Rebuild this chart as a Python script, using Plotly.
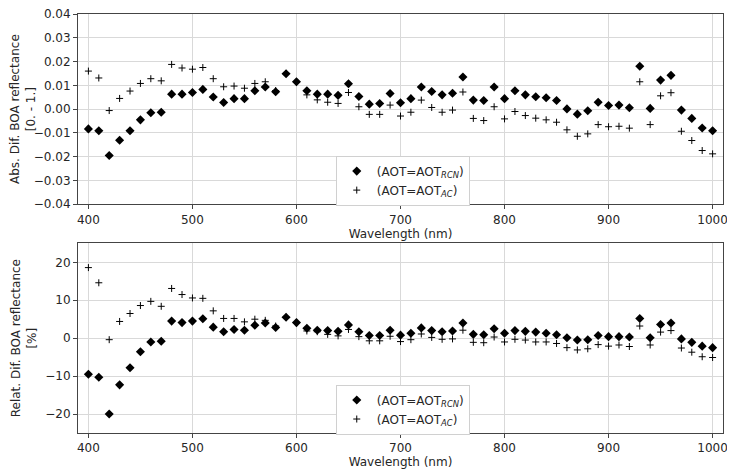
import plotly.graph_objects as go

wavelength = list(range(400, 1001, 10))

abs_rcn = [-0.0083, -0.0091, -0.0195, -0.0131, -0.0091, -0.0045, -0.0015, -0.0013,
           0.0063, 0.0063, 0.0070, 0.0083, 0.0051, 0.0028, 0.0044, 0.0044,
           0.0077, 0.0093, 0.0073, 0.0149, 0.0115, 0.0077, 0.0063, 0.0063,
           0.0058, 0.0107, 0.0053, 0.0021, 0.0024, 0.0066, 0.0027, 0.0044,
           0.0093, 0.0074, 0.0060, 0.0067, 0.0135, 0.0038, 0.0036, 0.0093,
           0.0044, 0.0077, 0.0060, 0.0052, 0.0048, 0.0036, 0.0001, -0.0021,
           -0.0007, 0.0029, 0.0015, 0.0017, 0.0006, 0.0180, 0.0003, 0.0122,
           0.0142, -0.0004, -0.0039, -0.0079, -0.0091]
abs_ac = [0.0160, 0.0131, -0.0006, 0.0045, 0.0076, 0.0108, 0.0128, 0.0119,
          0.0188, 0.0173, 0.0168, 0.0175, 0.0128, 0.0094, 0.0097, 0.0088,
          0.0108, 0.0115, 0.0078, 0.0150, 0.0112, 0.0060, 0.0039, 0.0029,
          0.0024, 0.0070, 0.0010, -0.0022, -0.0022, 0.0017, -0.0029, -0.0013,
          0.0038, 0.0007, -0.0013, -0.0004, 0.0072, -0.0039, -0.0048, 0.0010,
          -0.0041, -0.0010, -0.0027, -0.0038, -0.0045, -0.0055, -0.0087, -0.0114,
          -0.0104, -0.0065, -0.0074, -0.0072, -0.0080, 0.0115, -0.0065, 0.0056,
          0.0069, -0.0093, -0.0132, -0.0174, -0.0188]

rel_rcn = [-9.5, -10.3, -20.0, -12.3, -7.8, -3.6, -1.0, -0.8,
           4.5, 4.1, 4.5, 5.1, 2.9, 1.7, 2.3, 2.1,
           3.4, 4.0, 2.8, 5.5, 4.1, 2.6, 2.1, 2.0,
           1.8, 3.5, 1.7, 0.7, 0.7, 2.1, 0.8, 1.3,
           2.7, 2.0, 1.7, 1.9, 4.0, 1.0, 0.9, 2.5,
           1.3, 2.0, 1.8, 1.6, 1.3, 0.9, 0.1, -0.5,
           -0.4, 0.7, 0.4, 0.4, 0.3, 5.2, 0.1, 3.6,
           4.0, -0.2, -1.1, -2.1, -2.5]
rel_ac = [18.6, 14.6, -0.4, 4.4, 6.5, 8.6, 9.7, 8.4,
          13.1, 11.5, 10.6, 10.5, 7.2, 5.2, 5.2, 4.3,
          5.0, 4.7, 3.2, 5.5, 4.0, 1.9, 1.7, 1.0,
          0.6, 2.3, 0.4, -0.7, -0.7, 0.5, -0.9, -0.4,
          1.1, 0.2, -0.3, -0.2, 2.1, -1.1, -1.2, 0.3,
          -1.0, -0.3, -0.5, -1.0, -1.0, -1.4, -2.5, -3.1,
          -2.8, -1.7, -2.1, -1.8, -2.2, 3.2, -1.8, 1.6,
          2.0, -2.6, -3.7, -4.9, -5.1]

x_ticks = [400, 500, 600, 700, 800, 900, 1000]
abs_ticks = [-0.04, -0.03, -0.02, -0.01, 0.0, 0.01, 0.02, 0.03, 0.04]
rel_ticks = [-20, -10, 0, 10, 20]

name_rcn = "(AOT=AOT<sub><i>RCN</i></sub>)"
name_ac = "(AOT=AOT<sub><i>AC</i></sub>)"

txt = "#262626"
FS = 12
font = dict(family="DejaVu Sans", size=FS, color=txt)

fig = go.Figure()

diamond = dict(symbol="diamond", size=7, color="black")
cross = dict(symbol="cross-thin", size=5, color="black", line=dict(color="black", width=1))

fig.add_trace(go.Scatter(x=wavelength, y=abs_rcn, mode="markers", marker=diamond,
                         name=name_rcn, xaxis="x", yaxis="y", legend="legend"))
fig.add_trace(go.Scatter(x=wavelength, y=abs_ac, mode="markers", marker=cross,
                         name=name_ac, xaxis="x", yaxis="y", legend="legend"))
fig.add_trace(go.Scatter(x=wavelength, y=rel_rcn, mode="markers", marker=diamond,
                         name=name_rcn, xaxis="x2", yaxis="y2", legend="legend2"))
fig.add_trace(go.Scatter(x=wavelength, y=rel_ac, mode="markers", marker=cross,
                         name=name_ac, xaxis="x2", yaxis="y2", legend="legend2"))

axis_common = dict(showline=True, mirror=True, linecolor="#444444", linewidth=1,
                   ticks="outside", ticklen=4, tickcolor="#444444",
                   showgrid=True, gridcolor="#d9d9d9", gridwidth=1,
                   zeroline=False, automargin=False, ticklabeloverflow="allow",
                   tickfont=dict(size=FS, color=txt))

# page body has an 8px margin: figure is drawn offset by 8px
OFF = 8
W, HT = 735 - OFF, 472 - OFF
L, R, T, B = 77.7 - OFF, 735 - 723.3, 14.3 - OFF, 472 - 432.7
H = HT - T - B
PW = W - L - R

def yd(px):
    return 1 - (px - OFF - T) / H

fig.update_layout(
    width=W, height=HT,
    margin=dict(l=L, r=R, t=T, b=B, autoexpand=False),
    paper_bgcolor="white", plot_bgcolor="white",
    font=font,
    xaxis=dict(domain=[0, 1], anchor="y", range=[390, 1010], tickvals=x_ticks,
               title=dict(text="Wavelength (nm)", standoff=2, font=dict(size=FS)), **axis_common),
    yaxis=dict(domain=[yd(204.3), yd(14.3)], anchor="x",
               range=[-0.04, 0.04], tickvals=abs_ticks, tickformat=".2f",
               title=dict(text="Abs. Dif. BOA reflectance<br>[0. - 1.]", standoff=6, font=dict(size=FS)),
               **axis_common),
    xaxis2=dict(domain=[0, 1], anchor="y2", range=[390, 1010], tickvals=x_ticks,
                title=dict(text="Wavelength (nm)", standoff=2, font=dict(size=FS)), **axis_common),
    yaxis2=dict(domain=[yd(432.7), yd(243.3)], anchor="x2",
                range=[-25, 25], tickvals=rel_ticks,
                title=dict(text="Relat. Dif. BOA reflectance<br>[%]", standoff=6, font=dict(size=FS)),
                **axis_common),
    legend=dict(x=(335.7 - OFF - L) / PW, y=yd(155.7), xanchor="left", yanchor="top",
                bgcolor="white", bordercolor="#d0d0d0", borderwidth=1,
                font=dict(size=FS, color=txt), tracegroupgap=0, itemwidth=30),
    legend2=dict(x=(335.7 - OFF - L) / PW, y=yd(384.3), xanchor="left", yanchor="top",
                 bgcolor="white", bordercolor="#d0d0d0", borderwidth=1,
                 font=dict(size=FS, color=txt), tracegroupgap=0, itemwidth=30),
)

fig.write_html("out.html")
